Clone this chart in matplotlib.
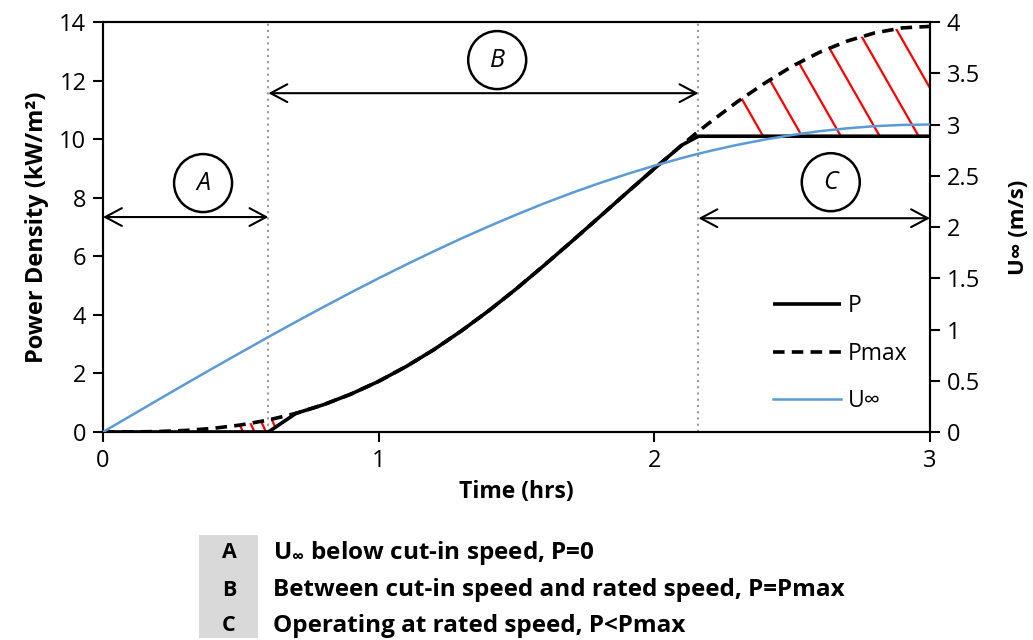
import matplotlib
matplotlib.use("Agg")
import matplotlib.pyplot as plt
from matplotlib.patches import PathPatch, Rectangle
from matplotlib.lines import Line2D
import numpy as np

plt.rcParams['font.family'] = ['Open Sans', 'DejaVu Sans']
plt.rcParams['mathtext.fontset'] = 'custom'
plt.rcParams['mathtext.rm'] = 'Open Sans'
plt.rcParams['mathtext.bf'] = 'Open Sans:bold'
plt.rcParams['mathtext.default'] = 'bf'

# ---- data -------------------------------------------------------------
time_hr = [0.0, 0.1, 0.2, 0.3, 0.4, 0.5, 0.6, 0.7, 0.8, 0.9, 1.0, 1.1, 1.2,
           1.3, 1.4, 1.5, 1.6, 1.7, 1.8, 1.9, 2.0, 2.1, 2.16, 2.2, 2.3, 2.4,
           2.5, 2.6, 2.7, 2.8, 2.9, 3.0]
p_max = [0.0, 0.002, 0.016, 0.053, 0.125, 0.240, 0.409, 0.637, 0.932, 1.296,
         1.731, 2.238, 2.811, 3.452, 4.147, 4.895, 5.689, 6.505, 7.335, 8.171,
         8.995, 9.798, 10.27, 10.56, 11.27, 11.91, 12.49, 12.97, 13.35, 13.63,
         13.80, 13.85]
p_out = [0.0, 0.0, 0.0, 0.0, 0.0, 0.0, 0.0, 0.637, 0.932, 1.296,
         1.731, 2.238, 2.811, 3.452, 4.147, 4.895, 5.689, 6.505, 7.335, 8.171,
         8.995, 9.798, 10.1, 10.1, 10.1, 10.1, 10.1, 10.1, 10.1, 10.1,
         10.1, 10.1]
u_inf = [0.0, 0.157, 0.314, 0.470, 0.624, 0.776, 0.927, 1.075, 1.220, 1.362,
         1.500, 1.634, 1.763, 1.888, 2.007, 2.121, 2.230, 2.332, 2.427, 2.516,
         2.598, 2.673, 2.715, 2.741, 2.801, 2.853, 2.898, 2.935, 2.963, 2.984,
         2.996, 3.000]

t_cut_in = 0.6     # hrs, end of region A
t_rated = 2.16     # hrs, start of region C

zones = ['A', 'B', 'C']
zone_text = [r'U$_{\infty}$ below cut-in speed, P=0',
             'Between cut-in speed and rated speed, P=Pmax',
             'Operating at rated speed, P<Pmax']

t = np.array(time_hr)
pm = np.array(p_max)
pp = np.array(p_out)

# ---- figure -----------------------------------------------------------
W_PX, H_PX = 1033, 640
fig = plt.figure(figsize=(W_PX / 100, H_PX / 100), dpi=100)
ax_rect = [0.0997, 0.325, 0.8006, 0.6406]
ax = fig.add_axes(ax_rect)
ax_w = ax_rect[2] * W_PX
ax_h = ax_rect[3] * H_PX

ax.set_xlim(0, 3)
ax.set_ylim(0, 14)
ax.set_xticks([0, 1, 2, 3])
ax.set_yticks(np.arange(0, 15, 2))
ax.tick_params(direction='out', length=7, width=1.5, labelsize=17, pad=5)
for s in ax.spines.values():
    s.set_linewidth(1.5)

# region boundaries
for tb in (t_cut_in, t_rated):
    ax.axvline(tb, color='#9a9a9a', ls=(0, (1, 2)), lw=1.5, zorder=1)


def hatch(ax, lower, upper, mask, anchors, slope, color='red'):
    """Slanted line hatching clipped to the band between two curves."""
    poly = ax.fill_between(t[mask], lower[mask], upper[mask],
                           facecolor='none', edgecolor='none')
    clip = PathPatch(poly.get_paths()[0], transform=ax.transData,
                     facecolor='none', edgecolor='none')
    ax.add_patch(clip)
    k = ax_h / (slope * ax_w)
    for a in anchors:
        ln = Line2D([a, a - k], [0, 1], transform=ax.transAxes,
                    color=color, lw=1.6, zorder=2)
        ln.set_clip_path(clip)
        ax.add_line(ln)


mask_a = t <= 0.75
hatch(ax, pp, pm, mask_a, [0.1693 + i * 0.0139 for i in range(4)], 2.2)
mask_c = t >= t_rated
hatch(ax, pp, pm, mask_c, [1.0026 + i * 0.047 for i in range(7)], 1.75)

l_p, = ax.plot(t, pp, color='black', lw=2.6, zorder=4, solid_capstyle='butt')
l_pm, = ax.plot(t, pm, color='black', lw=2.6, ls=(0, (3.2, 2.0)), zorder=3)

ax.set_xlabel('Time (hrs)', fontsize=16.5, fontweight='bold', labelpad=5)
ax.set_ylabel('Power Density (kW/m²)', fontsize=17, fontweight='bold',
              labelpad=7)

ax2 = ax.twinx()
ax2.set_ylim(0, 4)
ax2.set_yticks(np.arange(0, 4.01, 0.5))
ax2.set_yticklabels(['0', '0.5', '1', '1.5', '2', '2.5', '3', '3.5', '4'])
ax2.tick_params(direction='out', length=7, width=1.5, labelsize=17, pad=5)
for s in ax2.spines.values():
    s.set_linewidth(1.5)
l_u, = ax2.plot(t, u_inf, color='#5b9bd5', lw=1.8, zorder=5)
ax2.set_ylabel('U∞ (m/s)', fontsize=16, fontweight='bold', rotation=90,
               labelpad=20)

# zone arrows and circled labels
arrow_kw = dict(arrowstyle='<->,head_length=0.6,head_width=0.32',
                color='black', lw=1.5, shrinkA=0, shrinkB=0,
                mutation_scale=20)
zone_span = [(0.0, t_cut_in, 7.34), (t_cut_in, t_rated, 11.57),
             (t_rated, 3.0, 7.3)]
zone_mark = [(0.363, 8.5), (1.43, 12.7), (2.64, 8.53)]
for z, (x0, x1, y), (cx, cy) in zip(zones, zone_span, zone_mark):
    ax.annotate('', xy=(x1, y), xytext=(x0, y), arrowprops=arrow_kw,
                zorder=6)
    ax.text(cx, cy, z, fontsize=18, style='italic', ha='center',
            va='center', zorder=6,
            bbox=dict(boxstyle='circle,pad=0.66', fc='white', ec='black',
                      lw=1.8))

leg = ax2.legend([l_p, l_pm, l_u], ['P', 'Pmax', 'U∞'],
                 loc='upper left', bbox_to_anchor=(0.748, 0.541),
                 bbox_transform=fig.transFigure, frameon=False,
                 fontsize=16.5, handlelength=3.0, handletextpad=0.27,
                 labelspacing=1.04, borderpad=0, borderaxespad=0)

# zone key below the chart
fig.patches.append(Rectangle((0.1926, 0.003), 0.0571, 0.161,
                             transform=fig.transFigure, facecolor='#d9d9d9',
                             edgecolor='none', zorder=0))
rows_y = [0.136, 0.078, 0.022]
for z, txt, y in zip(zones, zone_text, rows_y):
    fig.text(0.2217, y, z, fontsize=15.5, fontweight='bold', ha='center',
             va='center')
    fig.text(0.2643, y, txt, fontsize=17.5, fontweight='bold', ha='left',
             va='center')

fig.savefig('out.png', dpi=100)
